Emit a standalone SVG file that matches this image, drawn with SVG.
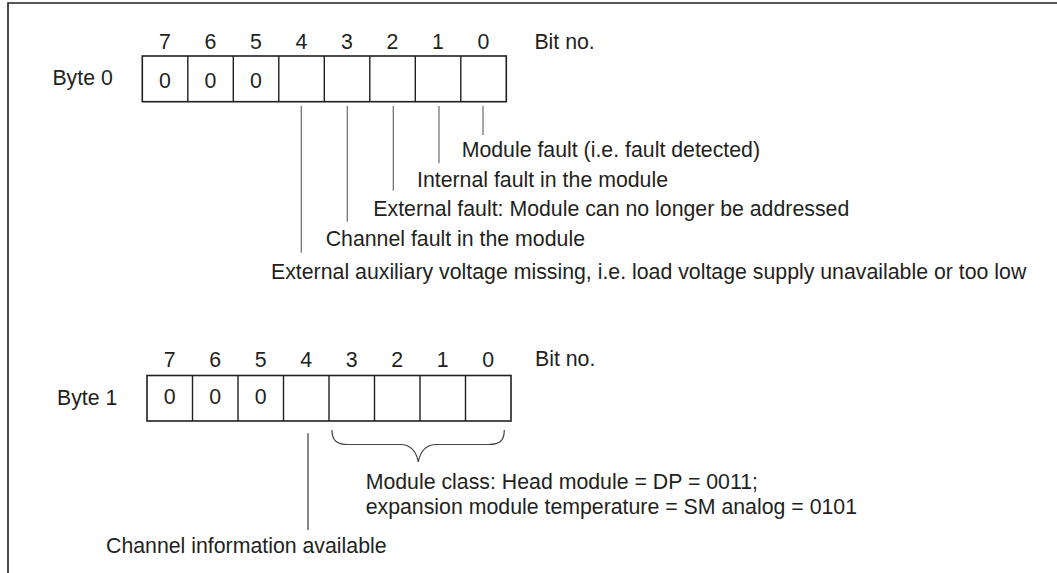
<svg xmlns="http://www.w3.org/2000/svg" width="1057" height="573" viewBox="0 0 1057 573">
<style>
text{font-family:"Liberation Sans",Arial,sans-serif;font-size:21.3px;fill:#231f20}
.c{text-anchor:middle}
.box{fill:none;stroke:#231f20;stroke-width:1.6}
.div{stroke:#231f20;stroke-width:1.4}
.frame{fill:none;stroke:#231f20;stroke-width:1.6}
.lead{stroke:#6a6a6a;stroke-width:1.2;fill:none}
.lead2{stroke:#3a3a3a;stroke-width:1.2;fill:none}
.brace{stroke:#444;stroke-width:1.2;fill:none}
</style>
<rect width="1057" height="573" fill="#fff"/>
<path class="frame" d="M8,573 V3 H1057"/>

<g id="byte0">
  <text x="52.4" y="85">Byte 0</text>
  <g id="byte0-bitnos">
    <text class="c" x="165" y="49.3">7</text>
    <text class="c" x="210.5" y="49.3">6</text>
    <text class="c" x="256" y="49.3">5</text>
    <text class="c" x="301.5" y="49.3">4</text>
    <text class="c" x="347" y="49.3">3</text>
    <text class="c" x="392.5" y="49.3">2</text>
    <text class="c" x="438" y="49.3">1</text>
    <text class="c" x="483.5" y="49.3">0</text>
    <text x="534.4" y="49.3">Bit no.</text>
  </g>
  <rect class="box" x="142.3" y="56" width="364" height="45.7"/>
  <path class="div" d="M187.8,56V101.7M233.3,56V101.7M278.8,56V101.7M324.3,56V101.7M369.8,56V101.7M415.3,56V101.7M460.8,56V101.7"/>
  <text class="c" x="165" y="88.3">0</text>
  <text class="c" x="210.5" y="88.3">0</text>
  <text class="c" x="256" y="88.3">0</text>
</g>

<g id="byte1">
  <text x="57" y="405">Byte 1</text>
  <g id="byte1-bitnos">
    <text class="c" x="169.8" y="366.5">7</text>
    <text class="c" x="215.3" y="366.5">6</text>
    <text class="c" x="260.8" y="366.5">5</text>
    <text class="c" x="306.3" y="366.5">4</text>
    <text class="c" x="351.8" y="366.5">3</text>
    <text class="c" x="397.3" y="366.5">2</text>
    <text class="c" x="442.8" y="366.5">1</text>
    <text class="c" x="488.3" y="366.5">0</text>
    <text x="535" y="365.5">Bit no.</text>
  </g>
  <rect class="box" x="147" y="375.5" width="364" height="45.5"/>
  <path class="div" d="M192.5,375.5V421M238,375.5V421M283.5,375.5V421M329,375.5V421M374.5,375.5V421M420,375.5V421M465.5,375.5V421"/>
  <text class="c" x="169.8" y="403.5">0</text>
  <text class="c" x="215.3" y="403.5">0</text>
  <text class="c" x="260.8" y="403.5">0</text>
</g>

<g id="connectors">
  <path class="lead" d="M483,106V135"/>
  <path class="lead" d="M439,106V163.3"/>
  <path class="lead" d="M393.3,106V190.7"/>
  <path class="lead" d="M347.3,106V221.7"/>
  <path class="lead" d="M301.3,106V252.7"/>
  <path class="lead2" d="M308,433.3V530"/>
  <path class="brace" d="M332,430 C332,440 336,444.5 348,444.5 L400,444.5 C410,444.5 416,450 418.3,462 C420.6,450 426.6,444.5 436.6,444.5 L488.6,444.5 C500.6,444.5 504.3,440 504.3,430"/>
</g>

<g id="labels-byte0">
  <text x="461.7" y="157">Module fault (i.e. fault detected)</text>
  <text x="417" y="186.7">Internal fault in the module</text>
  <text x="373.3" y="216">External fault: Module can no longer be addressed</text>
  <text x="325.7" y="246">Channel fault in the module</text>
  <text x="271" y="278.5">External auxiliary voltage missing, i.e. load voltage supply unavailable or too low</text>
</g>

<g id="labels-byte1">
  <text x="365.7" y="489.3">Module class: Head module = DP = 0011;</text>
  <text x="365.7" y="514">expansion module temperature = SM analog = 0101</text>
  <text x="106" y="553">Channel information available</text>
</g>
</svg>
